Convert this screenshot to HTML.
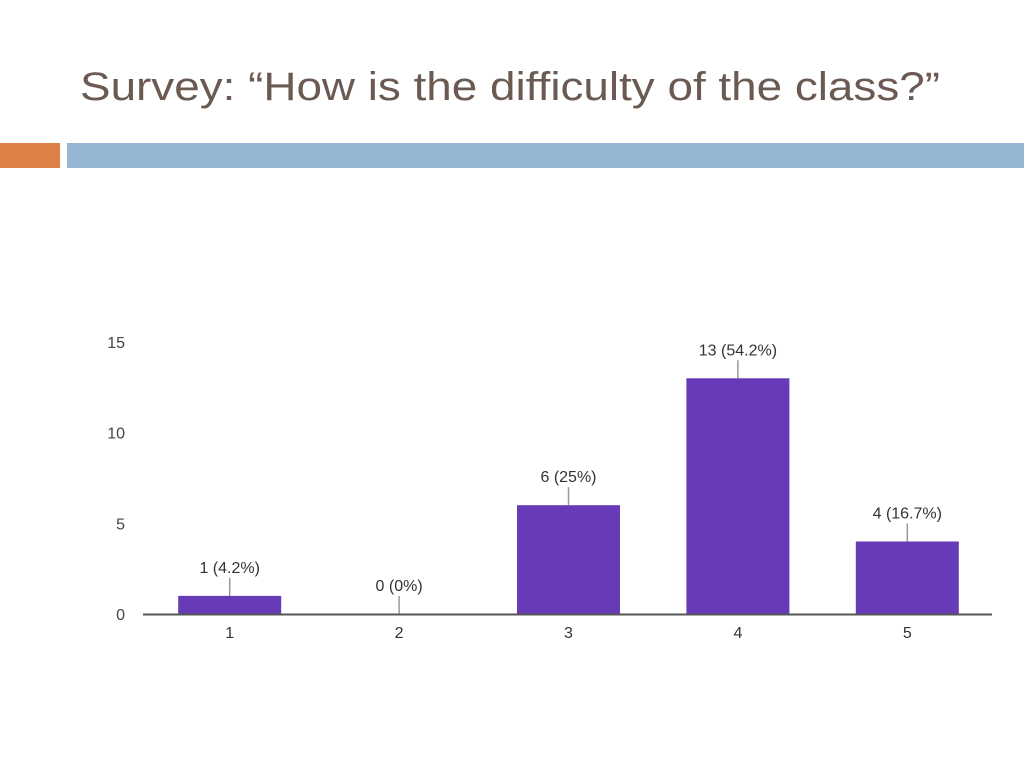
<!DOCTYPE html>
<html><head><meta charset="utf-8"><style>
html,body{margin:0;padding:0;background:#fff;}
svg{display:block;font-family:"Liberation Sans",sans-serif;}
</style></head><body>
<svg id="s" width="1024" height="768" viewBox="0 0 1024 768">
<text x="80" y="100" font-size="40" fill="#6b5a52" textLength="860" lengthAdjust="spacingAndGlyphs">Survey: “How is the difficulty of the class?”</text>
<rect x="0" y="143" width="60" height="25" fill="#dd8047"/>
<rect x="67" y="143" width="957" height="25" fill="#94b6d2"/>
<g id="chart"></g>
</svg>
<script>
const categories = ["1","2","3","4","5"];
const values = [1,0,6,13,4];
const valueLabels = ["1 (4.2%)","0 (0%)","6 (25%)","13 (54.2%)","4 (16.7%)"];
const yTicks = [0,5,10,15];

const NS="http://www.w3.org/2000/svg";
const g=document.getElementById('chart');
const x0=145,x1=992,y0=614,yTop=342,yMax=15;
const band=(x1-x0)/categories.length;
const y=v=>y0-(y0-yTop)*v/yMax;
const xc=i=>x0+band*(i+0.5);
const barW=103;
function mk(t,a){const e=document.createElementNS(NS,t);for(const k in a)e.setAttribute(k,a[k]);g.appendChild(e);return e;}
yTicks.forEach(t=>{
  const e=mk('text',{x:125,y:y(t)+6,'font-size':16,fill:'#444','text-anchor':'end'});
  
  
  e.textContent=t;
});
categories.forEach((c,i)=>{
  const h=y0-y(values[i]);
  const b=mk('rect',{x:xc(i)-barW/2,y:y(values[i]),width:barW,height:h,fill:'#673ab7'});
  
  
  const top=y(values[i]);
  const l=mk('line',{x1:xc(i),x2:xc(i),y1:top,y2:top-18,stroke:'#999','stroke-width':1.5});
  
  
  const t=mk('text',{x:xc(i),y:top-23,'font-size':16,fill:'#333','text-anchor':'middle'});
  
  
  t.textContent=valueLabels[i];
  const xl=mk('text',{x:xc(i),y:y0+24,'font-size':16,fill:'#333','text-anchor':'middle'});
  
  
  xl.textContent=c;
});
const ax=mk('line',{x1:x0-2,x2:x1,y1:y0+0.5,y2:y0+0.5,stroke:'#555','stroke-width':2});


</script>
</body></html>
